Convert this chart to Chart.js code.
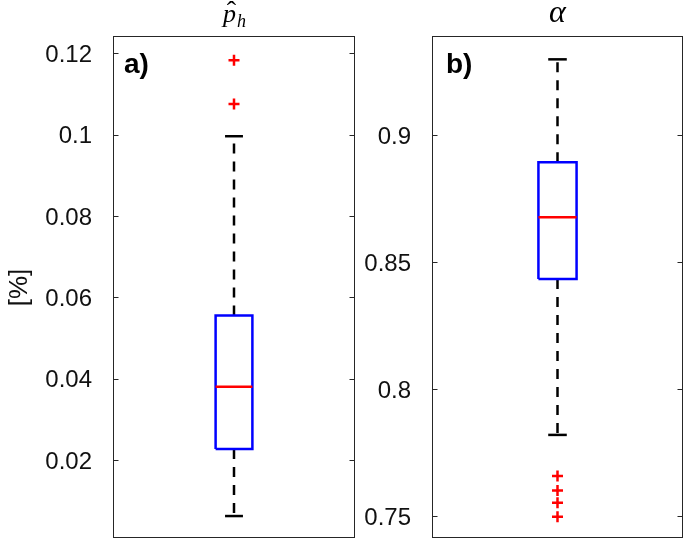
<!DOCTYPE html>
<html>
<head>
<meta charset="utf-8">
<script src="https://cdn.jsdelivr.net/npm/chart.js@4.4.1/dist/chart.umd.min.js"></script>
<style>
  body { margin: 0; background: #fff; width: 685px; height: 540px; position: relative; overflow: hidden; }
  canvas { position: absolute; top: 0; }
  #boxA { left: 0; }
  #boxB { left: 360px; }
</style>
</head>
<body>
<canvas id="boxA" width="360" height="540"></canvas>
<canvas id="boxB" width="325" height="540"></canvas>
<script>
// panel a) p-hat_h, values in [%]
// summary: lower whisker, q1, median, q3, upper whisker
const boxA = [0.0062, 0.0227, 0.0380, 0.0555, 0.0996];
const outliersA = [0.1075, 0.1183];
const yTicksA = [0.02, 0.04, 0.06, 0.08, 0.1, 0.12];
const yLabelsA = ["0.02", "0.04", "0.06", "0.08", "0.1", "0.12"];
const yRangeA = [0.0008, 0.1240];

// panel b) alpha
const boxB = [0.7819, 0.8433, 0.8676, 0.8893, 0.9298];
const outliersB = [0.7497, 0.7552, 0.7600, 0.7657];
const yTicksB = [0.75, 0.8, 0.85, 0.9];
const yLabelsB = ["0.75", "0.8", "0.85", "0.9"];
const yRangeB = [0.7413, 0.9386];

const sans = '"Liberation Sans", Arial, Helvetica, sans-serif';
const serif = '"Liberation Serif", "Times New Roman", serif';
const axisColor = '#262626';
const textColor = '#111';
const BW = 0.076;  // half box width (x units, xlim 0.5..1.5)
const CW = 0.037;  // half cap width

// frame, inward ticks, panel letter and math title
const framePlugin = {
  id: 'frame',
  afterDraw(chart, args, o) {
    const ctx = chart.ctx, a = chart.chartArea, y = chart.scales.y;
    const l = Math.round(a.left) + 0.5, r = Math.round(a.right) - 0.5;
    const t = Math.round(a.top) - 0.5, b = Math.round(a.bottom) - 0.5;
    ctx.save();
    ctx.strokeStyle = axisColor;
    ctx.lineWidth = 1;
    ctx.strokeRect(l, t, r - l, b - t);
    y.ticks.forEach(tk => {
      const py = Math.round(y.getPixelForValue(tk.value)) + 0.5;
      ctx.beginPath();
      ctx.moveTo(l, py); ctx.lineTo(l + 5, py);
      ctx.moveTo(r - 5, py); ctx.lineTo(r, py);
      ctx.stroke();
    });

    ctx.fillStyle = '#000';
    ctx.textBaseline = 'alphabetic';
    ctx.textAlign = 'left';
    ctx.font = 'bold 28px ' + sans;
    ctx.fillText(o.letter, a.left + o.letterDx, a.top + 36);

    const cx = (a.left + a.right) / 2;
    if (o.title === 'phat') {
      ctx.font = 'italic 26px ' + serif;
      const pw = ctx.measureText('p').width;
      ctx.font = 'italic 18px ' + serif;
      const hw = ctx.measureText('h').width;
      const x0 = cx - (pw + hw) / 2;
      ctx.font = 'italic 26px ' + serif;
      ctx.fillText('p', x0, 22);
      ctx.font = 'italic 18px ' + serif;
      ctx.fillText('h', x0 + pw + 1, 27);
      ctx.textAlign = 'center';
      ctx.font = '28px ' + serif;
      ctx.fillText('ˆ', x0 + pw / 2 + 2, 20);
    } else {
      ctx.textAlign = 'center';
      ctx.font = 'italic 32px ' + serif;
      ctx.fillText(o.title, cx, 22);
    }
    ctx.restore();
  }
};

function seg(x1, y1, x2, y2) {
  return [{ x: x1, y: y1 }, { x: x2, y: y2 }];
}

function makeBox(id, box, outliers, ticks, labels, range, cfg) {
  const [lo, q1, med, q3, hi] = box;
  const line = (data, color, extra) => Object.assign({
    data, borderColor: color, borderWidth: 2.5, pointRadius: 0, fill: false, tension: 0
  }, extra || {});

  const datasets = [
    line(seg(1 - BW, med, 1 + BW, med), '#ff0000'),
    line([{ x: 1 - BW, y: q1 }, { x: 1 + BW, y: q1 }, { x: 1 + BW, y: q3 },
          { x: 1 - BW, y: q3 }, { x: 1 - BW, y: q1 }], '#0000ff'),
    {
      data: outliers.map(v => ({ x: 1, y: v })),
      showLine: false, pointStyle: 'cross', pointRadius: 5.5,
      pointBorderColor: '#ff0000', pointBorderWidth: 2.5, borderColor: '#ff0000'
    },
    line(seg(1 - CW, hi, 1 + CW, hi), '#000'),
    line(seg(1 - CW, lo, 1 + CW, lo), '#000'),
    line(seg(1, q3, 1, hi), '#000', { borderDash: [10, 8] }),
    line(seg(1, q1, 1, lo), '#000', { borderDash: [10, 8] })
  ];

  return new Chart(document.getElementById(id), {
    type: 'line',
    data: { datasets },
    plugins: [framePlugin],
    options: {
      responsive: false,
      animation: false,
      events: [],
      layout: { autoPadding: false, padding: { top: 37, bottom: 2, right: cfg.padRight, left: 0 } },
      plugins: {
        legend: { display: false },
        tooltip: { enabled: false },
        frame: { letter: cfg.letter, letterDx: cfg.letterDx, title: cfg.title }
      },
      scales: {
        x: { type: 'linear', min: 0.5, max: 1.5, display: false },
        y: {
          type: 'linear',
          min: range[0],
          max: range[1],
          afterBuildTicks: s => { s.ticks = ticks.map(v => ({ value: v })); },
          afterFit: s => {
            s.width = cfg.axisWidth;
            s.paddingTop = 0; s.paddingBottom = 0;
            s.paddingLeft = 0; s.paddingRight = 0;
          },
          grid: { display: false },
          border: { display: false },
          ticks: {
            padding: 13,
            labelOffset: 2,
            color: textColor,
            font: { family: sans, size: 24 },
            callback: (v, i) => labels[i]
          },
          title: {
            display: !!cfg.yTitle,
            text: cfg.yTitle || '',
            color: textColor,
            font: { family: sans, size: 26 },
            padding: { top: 4, bottom: 0 }
          }
        }
      }
    }
  });
}

makeBox('boxA', boxA, outliersA, yTicksA, yLabelsA, yRangeA,
  { axisWidth: 113, padRight: 5, letter: 'a)', letterDx: 11, title: 'phat', yTitle: '[%]' });
makeBox('boxB', boxB, outliersB, yTicksB, yLabelsB, yRangeB,
  { axisWidth: 72, padRight: 2, letter: 'b)', letterDx: 14, title: 'α' });
</script>
</body>
</html>
